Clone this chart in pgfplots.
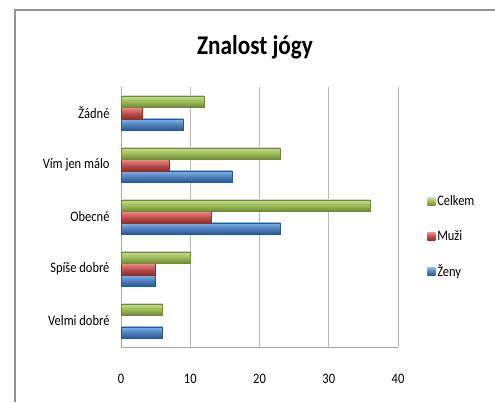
\documentclass[border=0pt]{standalone}
\usepackage{fontspec}
\setmainfont{Carlito}[FakeStretch=0.86]
\usepackage{pgfplots}
\pgfplotsset{compat=1.18}
\definecolor{gA}{HTML}{9BBB59}
\definecolor{gL}{HTML}{C8E08C}
\definecolor{gD}{HTML}{6E8A35}
\definecolor{rA}{HTML}{C0504D}
\definecolor{rL}{HTML}{F28E8A}
\definecolor{rD}{HTML}{8E2F2C}
\definecolor{bA}{HTML}{4F81BD}
\definecolor{bL}{HTML}{84B6EE}
\definecolor{bD}{HTML}{2C5590}
\pgfplotsset{
  zeny/.style={bar shift=-11.5pt, draw=bD, line width=0.4pt, top color=bL, bottom color=bD, middle color=bA},
  muzi/.style={bar shift=0pt, draw=rD, line width=0.4pt, top color=rL, bottom color=rD, middle color=rA},
  celkem/.style={bar shift=11.5pt, draw=gD, line width=0.4pt, top color=gL, bottom color=gD, middle color=gA},
}
\begin{document}
\begin{tikzpicture}[x=1pt,y=1pt]
\useasboundingbox (0,0) rectangle (495,402);
\draw[gray!85, line width=1.2pt] (15,0) -- (15,392) -- (495,392);
\node[font=\bfseries\fontsize{27}{30}\selectfont] at (255,355) {Znalost jógy};
\begin{axis}[
  at={(121pt,55pt)}, anchor=south west,
  scale only axis, width=277pt, height=260pt,
  xbar, bar width=11.5pt,
  xmin=0, xmax=40, xtick={0,10,20,30,40},
  ymin=-0.5, ymax=4.5, ytick={0,1,2,3,4},
  yticklabels={Velmi dobré, Spíše dobré, Obecné, Vím jen málo, Žádné},
  axis x line*=bottom, axis y line*=left,
  axis line style={gray!70, line width=0.8pt, -},
  xmajorgrids, grid style={gray!55, line width=0.8pt},
  major tick length=0pt,
  tick label style={font=\fontsize{14.5}{17}\selectfont},
  /pgf/number format/assume math mode=true,
  xticklabel style={anchor=base, yshift=-36pt},
  yticklabel style={xshift=-8pt},
  legend style={at={(1.105,0.423)}, anchor=west, draw=none, fill=none,
     font=\fontsize{14.5}{17}\selectfont, row sep=19pt, inner sep=0pt,
     nodes={inner sep=2pt}},
  legend cell align=left,
  reverse legend,
  legend image code/.code={\draw[#1, draw=none] (0pt,-4pt) rectangle (8pt,4pt);},
  clip=false,
]
% Zeny
\addplot[zeny] coordinates {(6,0)};
\addplot[zeny, forget plot] coordinates {(5,1)};
\addplot[zeny, forget plot] coordinates {(23,2)};
\addplot[zeny, forget plot] coordinates {(16,3)};
\addplot[zeny, forget plot] coordinates {(9,4)};
% Muzi (0 for Velmi dobre)
\addplot[muzi] coordinates {(5,1)};
\addplot[muzi, forget plot] coordinates {(13,2)};
\addplot[muzi, forget plot] coordinates {(7,3)};
\addplot[muzi, forget plot] coordinates {(3,4)};
% Celkem
\addplot[celkem] coordinates {(6,0)};
\addplot[celkem, forget plot] coordinates {(10,1)};
\addplot[celkem, forget plot] coordinates {(36,2)};
\addplot[celkem, forget plot] coordinates {(23,3)};
\addplot[celkem, forget plot] coordinates {(12,4)};
\legend{Ženy, Muži, Celkem}
\end{axis}
\end{tikzpicture}
\end{document}
